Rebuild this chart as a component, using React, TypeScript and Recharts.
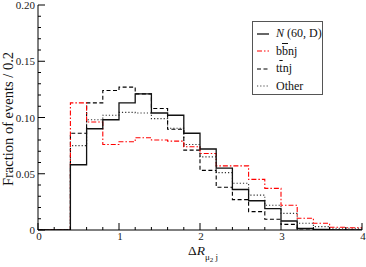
import { Legend, Line, LineChart, XAxis, YAxis } from "recharts";

// histogram bins, width 0.2, value at the start of each bin
const binStarts = [0.4, 0.6, 0.8, 1.0, 1.2, 1.4, 1.6, 1.8, 2.0, 2.2, 2.4, 2.6, 2.8, 3.0, 3.2, 3.4, 3.6, 3.8];
const heavyN = [0.058, 0.09, 0.098, 0.113, 0.121, 0.104, 0.102, 0.086, 0.072, 0.055, 0.036, 0.026, 0.019, 0.008, 0.0015, 0.0005, 0, 0];
const bbnj = [0.113, 0.096, 0.076, 0.0785, 0.082, 0.08, 0.079, 0.074, 0.068, 0.057, 0.057, 0.045, 0.037, 0.022, 0.0104, 0.006, 0.0025, 0.002];
const ttnj = [0.086, 0.113, 0.124, 0.127, 0.121, 0.108, 0.0895, 0.071, 0.053, 0.038, 0.027, 0.0163, 0.0095, 0.005, 0.001, 0.0003, 0, 0];
const other = [0.075, 0.098, 0.102, 0.1046, 0.104, 0.099, 0.0905, 0.076, 0.065, 0.051, 0.0415, 0.031, 0.022, 0.0148, 0.006, 0.003, 0.0015, 0.0015];

const xMajor = [0, 1, 2, 3, 4];
const yMajor = [0, 0.05, 0.1, 0.15, 0.2];
const yMajorLabels = ["0", "0.05", "0.10", "0.15", "0.20"];

const xTicks = Array.from({ length: 21 }, (_, i) => +(i * 0.2).toFixed(2));
const yTicks = Array.from({ length: 21 }, (_, i) => +(i * 0.01).toFixed(2));

const last = binStarts.length - 1;
const data = [
  { x: 0, n: 0, bb: 0, tt: 0, other: 0 },
  ...binStarts.map((x, i) => ({ x, n: heavyN[i], bb: bbnj[i], tt: ttnj[i], other: other[i] })),
  { x: 4, n: heavyN[last], bb: bbnj[last], tt: ttnj[last], other: other[last] },
];

const FONT = "'Liberation Serif', 'DejaVu Serif', serif";
const INK = "#000";

const isMajorX = (v: number) => xMajor.some((m) => Math.abs(m - v) < 1e-6);
const majorYIndex = (v: number) => yMajor.findIndex((m) => Math.abs(m - v) < 1e-6);

function BottomTick({ x, y, payload }: any) {
  const major = isMajorX(payload.value);
  return (
    <g>
      <line x1={x} x2={x} y1={y} y2={y - (major ? 7 : 3)} stroke={INK} />
      {major && (
        <text x={x + 1} y={y + 10} textAnchor="middle" fontSize={11} fill="#222" fontFamily={FONT}>
          {Math.round(payload.value)}
        </text>
      )}
    </g>
  );
}

function TopTick({ x, y, payload }: any) {
  const major = isMajorX(payload.value);
  return <line x1={x} x2={x} y1={y} y2={y + (major ? 7 : 3)} stroke={INK} />;
}

function LeftTick({ x, y, payload }: any) {
  const idx = majorYIndex(payload.value);
  return (
    <g>
      <line x1={x} x2={x + (idx >= 0 ? 7 : 3)} y1={y} y2={y} stroke={INK} />
      {idx >= 0 && (
        <text x={x - 3} y={y + 4} textAnchor="end" fontSize={11} fill="#222" fontFamily={FONT}>
          {yMajorLabels[idx]}
        </text>
      )}
    </g>
  );
}

function RightTick({ x, y, payload }: any) {
  const major = majorYIndex(payload.value) >= 0;
  return <line x1={x} x2={x - (major ? 7 : 3)} y1={y} y2={y} stroke={INK} />;
}

const legendItems = [
  { key: "n", stroke: "#000", dash: undefined as string | undefined },
  { key: "bb", stroke: "#ff0000", dash: "5 2 1.5 2" },
  { key: "tt", stroke: "#000", dash: "4 2.5" },
  { key: "other", stroke: "#444", dash: "1.2 2" },
];

function legendText(key: string) {
  if (key === "n")
    return (
      <>
        <i>N</i> (60, D)
      </>
    );
  if (key === "bb")
    return (
      <>
        b<span style={{ textDecoration: "overline" }}>b</span>nj
      </>
    );
  if (key === "tt")
    return (
      <>
        t<span style={{ textDecoration: "overline" }}>t</span>nj
      </>
    );
  return <>Other</>;
}

function LegendBox() {
  return (
    <div
      style={{
        width: 71,
        height: 74,
        border: "1px solid #555",
        background: "#fff",
        fontFamily: FONT,
        fontSize: 12,
        color: "#111",
        paddingTop: 3,
        boxSizing: "border-box",
      }}
    >
      {legendItems.map((it) => (
        <div key={it.key} style={{ display: "flex", alignItems: "center", height: 17.5 }}>
          <svg width={23} height={10} style={{ flex: "none" }}>
            <line x1={4} x2={16} y1={5} y2={5} stroke={it.stroke} strokeWidth={1.2} strokeDasharray={it.dash} />
          </svg>
          <span style={{ whiteSpace: "nowrap" }}>{legendText(it.key)}</span>
        </div>
      ))}
    </div>
  );
}

function XTitle({ viewBox }: any) {
  const cx = viewBox.x + viewBox.width / 2 + 3;
  return (
    <text x={cx} y={255} textAnchor="middle" fontFamily={FONT} fontSize={13.5} fill="#111">
      <tspan>Δ</tspan>
      <tspan fontStyle="italic">R</tspan>
      <tspan fontSize={9} dy={5}>μ</tspan>
      <tspan fontSize={7} dy={2}>2</tspan>
      <tspan fontSize={9} dy={-2}> j</tspan>
    </text>
  );
}

function YTitle() {
  return (
    <text
      x={12.5}
      y={119}
      transform="rotate(-90 12.5 119)"
      textAnchor="middle"
      fontFamily={FONT}
      fontSize={14.5}
      fill="#111"
    >
      Fraction of events / 0.2
    </text>
  );
}

export default function App() {
  return (
    <div style={{ position: "absolute", left: 0, top: 0, background: "#fff" }}>
      <LineChart width={366} height={267} data={data} margin={{ top: 5, right: 4, bottom: 0, left: 0 }}>
        <XAxis
          dataKey="x"
          type="number"
          domain={[0, 4]}
          ticks={xTicks}
          interval={0}
          tickSize={0}
          tickMargin={0}
          tickLine={false}
          tick={BottomTick}
          axisLine={{ stroke: INK }}
          height={37}
          allowDataOverflow
          label={{ content: XTitle }}
        />
        <XAxis
          xAxisId="top"
          orientation="top"
          dataKey="x"
          type="number"
          domain={[0, 4]}
          ticks={xTicks}
          interval={0}
          tickSize={0}
          tickMargin={0}
          tickLine={false}
          tick={TopTick}
          axisLine={{ stroke: INK }}
          height={0}
          allowDataOverflow
        />
        <YAxis
          type="number"
          domain={[0, 0.2]}
          ticks={yTicks}
          interval={0}
          tickSize={0}
          tickMargin={0}
          tickLine={false}
          tick={LeftTick}
          axisLine={{ stroke: INK }}
          width={38}
          allowDataOverflow
          label={{ content: YTitle }}
        />
        <YAxis
          yAxisId="right"
          orientation="right"
          type="number"
          domain={[0, 0.2]}
          ticks={yTicks}
          interval={0}
          tickSize={0}
          tickMargin={0}
          tickLine={false}
          tick={RightTick}
          axisLine={{ stroke: INK }}
          width={0}
          allowDataOverflow
        />
        <Legend
          layout="vertical"
          align="center"
          verticalAlign="middle"
          content={LegendBox}
          wrapperStyle={{ left: 252, top: 21, width: 71, height: 74 }}
        />
        <Line type="stepAfter" dataKey="other" stroke="#333" strokeWidth={1.1} strokeDasharray="1.2 2" dot={false} isAnimationActive={false} />
        <Line type="stepAfter" dataKey="tt" stroke="#000" strokeWidth={1.1} strokeDasharray="4 2.5" dot={false} isAnimationActive={false} />
        <Line type="stepAfter" dataKey="bb" stroke="#ff0000" strokeWidth={1.1} strokeDasharray="5 2 1.5 2" dot={false} isAnimationActive={false} />
        <Line type="stepAfter" dataKey="n" stroke="#111" strokeWidth={1.3} dot={false} isAnimationActive={false} />
      </LineChart>
    </div>
  );
}
